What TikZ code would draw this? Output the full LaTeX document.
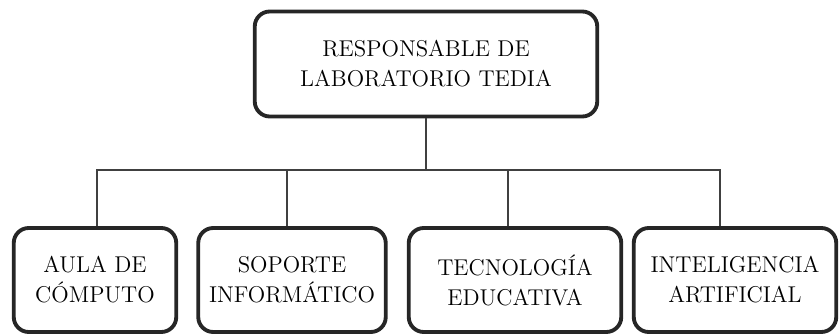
\documentclass[tikz,border=0pt]{standalone}
\usepackage{fontspec}
\tikzset{
  cargo/.style={rectangle, rounded corners=0.3cm, draw=black!85, line width=2.2pt, align=center, font=\fontsize{13}{17}\selectfont, inner sep=0pt},
  enlace/.style={draw=black!75, line width=0.6pt}
}

\begin{document}
\begin{tikzpicture}
\useasboundingbox (0,0) rectangle (16.8,-6.68);
\node[cargo, minimum width=6.85cm, minimum height=2.1cm] (jefe) at (8.52,-1.28) {RESPONSABLE DE\\LABORATORIO TEDIA};
\node[cargo, minimum width=3.25cm, minimum height=2.08cm] (aula) at (1.9,-5.6) {AULA DE\\CÓMPUTO};
\node[cargo, minimum width=3.75cm, minimum height=2.08cm] (soporte) at (5.84,-5.6) {SOPORTE\\INFORMÁTICO};
\node[cargo, minimum width=4.25cm, minimum height=2.08cm] (tecno) at (10.3,-5.6) {TECNOLOGÍA\\EDUCATIVA};
\node[cargo, minimum width=4.05cm, minimum height=2.08cm] (ia) at (14.7,-5.6) {INTELIGENCIA\\ARTIFICIAL};

\coordinate (bus) at (jefe.south |- 0,-3.4);

\draw[enlace] (jefe.south) -- (bus);
\draw[enlace] (bus) -| ([xshift=0.04cm]aula.north);
\draw[enlace] (bus) -| ([xshift=-0.1cm]soporte.north);
\draw[enlace] (bus) -| ([xshift=-0.14cm]tecno.north);
\draw[enlace] (bus) -| ([xshift=-0.3cm]ia.north);
\end{tikzpicture}
\end{document}
